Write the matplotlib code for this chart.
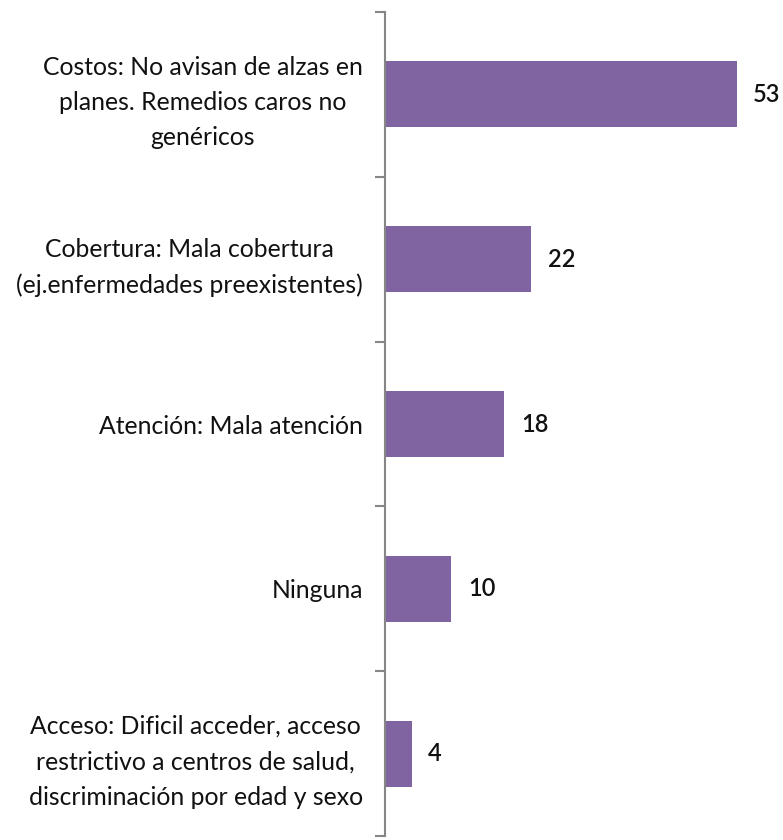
import matplotlib
matplotlib.use("Agg")
import matplotlib.pyplot as plt

categorias = [
    "Costos: No avisan de alzas en\nplanes. Remedios caros no\ngenéricos",
    "Cobertura: Mala cobertura\n(ej.enfermedades preexistentes)",
    "Atención: Mala atención",
    "Ninguna",
    "Acceso: Dificil acceder, acceso\nrestrictivo a centros de salud,\ndiscriminación por edad y sexo",
]
valores = [53, 22, 18, 10, 4]

plt.rcParams['font.family'] = ['Lato', 'DejaVu Sans']

fig = plt.figure(figsize=(7.83, 8.4), dpi=100)
ax = fig.add_axes([385 / 783, 4 / 840, 398 / 783, 824 / 840])

pos = list(range(len(valores)))
ax.barh(pos, valores, height=0.4, color="#8064A2")
ax.set_xlim(0, 60)
ax.set_ylim(len(valores) - 0.5, -0.5)

for p, v in zip(pos, valores):
    ax.annotate(str(v), (v, p), xytext=(12, 0), textcoords="offset points",
                va="center", ha="left", fontsize=17, fontweight="semibold",
                color="#111111")

ax.set_yticks(pos)
ax.set_yticklabels(categorias, fontsize=17.8, color="#111111",
                   linespacing=1.65)
for t in ax.get_yticklabels():
    t.set_multialignment("center")
ax.tick_params(axis="y", which="major", length=0, pad=16)
ax.set_yticks([p - 0.5 for p in pos] + [len(valores) - 0.5], minor=True)
ax.tick_params(axis="y", which="minor", length=7, width=1.5, color="#868686")
ax.set_xticks([])

for s in ["top", "right", "bottom"]:
    ax.spines[s].set_visible(False)
ax.spines["left"].set_color("#868686")
ax.spines["left"].set_linewidth(1.5)

fig.savefig("out.png", dpi=100)
